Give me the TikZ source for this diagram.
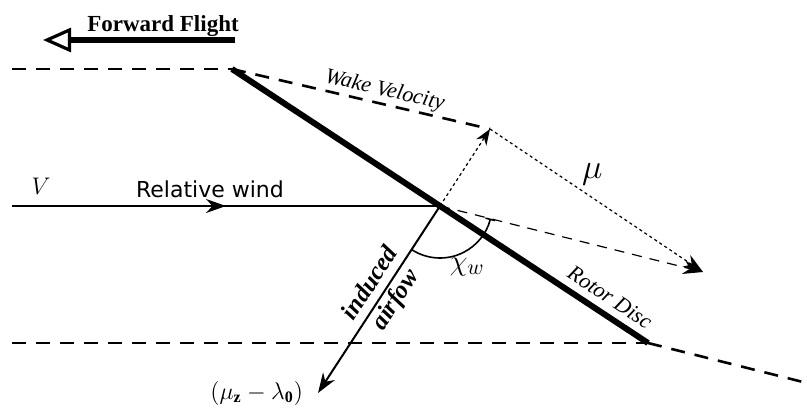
\documentclass[tikz,border=0pt]{standalone}
\usepackage{fontspec}
\setmainfont{Liberation Serif}
\newfontfamily\windfont{DejaVu Sans}
\usepackage{tikz}
\usetikzlibrary{arrows.meta, positioning, calc, decorations.markings}

\begin{document}
\begin{tikzpicture}[
    x=0.5pt, y=0.5pt,
    disc/.style={line width=3pt, black},
    wakeline/.style={line width=1.3pt, dash pattern=on 7pt off 5pt},
    vecdash/.style={line width=0.6pt, dash pattern=on 5pt off 4pt},
    vecdot/.style={line width=0.6pt, dash pattern=on 1.5pt off 1.5pt},
    arr/.style={-{Stealth[length=8pt, width=6pt]}},
    lbl/.style={font=\fontsize{11}{13}\selectfont\itshape, inner sep=1pt},
    node distance=0.6cm
]
\useasboundingbox (0,0) rectangle (807,409);

% Key points
\coordinate (discTop) at (232,340);
\coordinate (discBot) at (648,66);
\coordinate (hub) at ($(discTop)!0.5!(discBot)$);
\coordinate (wakeTip) at (490,280);
\coordinate (muTip) at (703,137);
\coordinate (inflow) at (318,16);

% Forward Flight
\node[font=\fontsize{11.5}{13}\selectfont\bfseries, anchor=base] (fwd) at (163,378) {Forward Flight};
\coordinate (fwdStart) at (235,369);
\coordinate (fwdEnd) at (43,369);
\draw[line width=3pt, -{Triangle[open, length=14pt, width=12pt, line width=1.6pt]}] (fwdStart) -- (fwdEnd);

% Wake boundaries
\coordinate (topLeft) at (12,340);
\coordinate (botLeft) at (12,66);
\coordinate (wakeEnd) at (815,24);
\draw[wakeline] (topLeft) -- (discTop);
\draw[wakeline] (botLeft) -- (discBot);
\draw[wakeline] (discBot) -- (wakeEnd);
\draw[wakeline] (discTop) -- (wakeTip) node[lbl, pos=0.58, sloped, above] (wake) {Wake Velocity};

% Relative wind
\coordinate (windStart) at (12,203);
\draw[line width=0.8pt, postaction={decorate},
    decoration={markings, mark=at position 0.5 with {\arrow{Stealth[length=10pt, width=7pt]}}}]
    (windStart) -- (hub);
\node[font=\fontsize{13}{15}\selectfont] (V) at (41,223) {$V$};
\node[font=\fontsize{11}{13}\selectfont\windfont] (wind) at (210,220) {Relative wind};

% Rotor Disc
\draw[disc] (discTop) -- (discBot) node[lbl, pos=0.886, sloped, above=2.5pt] (rotor) {Rotor Disc};

% Velocity triangle
\draw[vecdot, arr] (hub) -- (wakeTip);
\draw[vecdot, -{Stealth[length=10pt, width=7pt]}] (wakeTip) -- (muTip)
    node[pos=0.48, above=2.5pt, font=\fontsize{17}{19}\selectfont] (mu) {$\mu$};
\draw[vecdash, -{Stealth[length=10pt, width=7pt]}] (hub) -- (muTip);

% Induced airflow
\draw[line width=1pt, -{Stealth[length=10pt, width=7pt]}] (hub) -- (inflow)
    node[pos=0.46, sloped, align=center, inner sep=1pt,
    font=\fontsize{12.5}{15}\selectfont\bfseries\itshape] (induced) {induced\\airfow};
\node[font=\fontsize{12}{14}\selectfont, left=4pt of inflow] (inflowlbl) {$(\mu_{\mathbf{z}} - \lambda_{\mathbf{0}})$};

% Skew angle
\draw[line width=0.8pt, -{Bar[width=5pt]}] ($(hub)+(237:52)$) arc[start angle=237, end angle=346, radius=52];
\node[font=\fontsize{15}{17}\selectfont] (chi) at ($(hub)+(294:67)$) {$\chi_w$};

\end{tikzpicture}
\end{document}
